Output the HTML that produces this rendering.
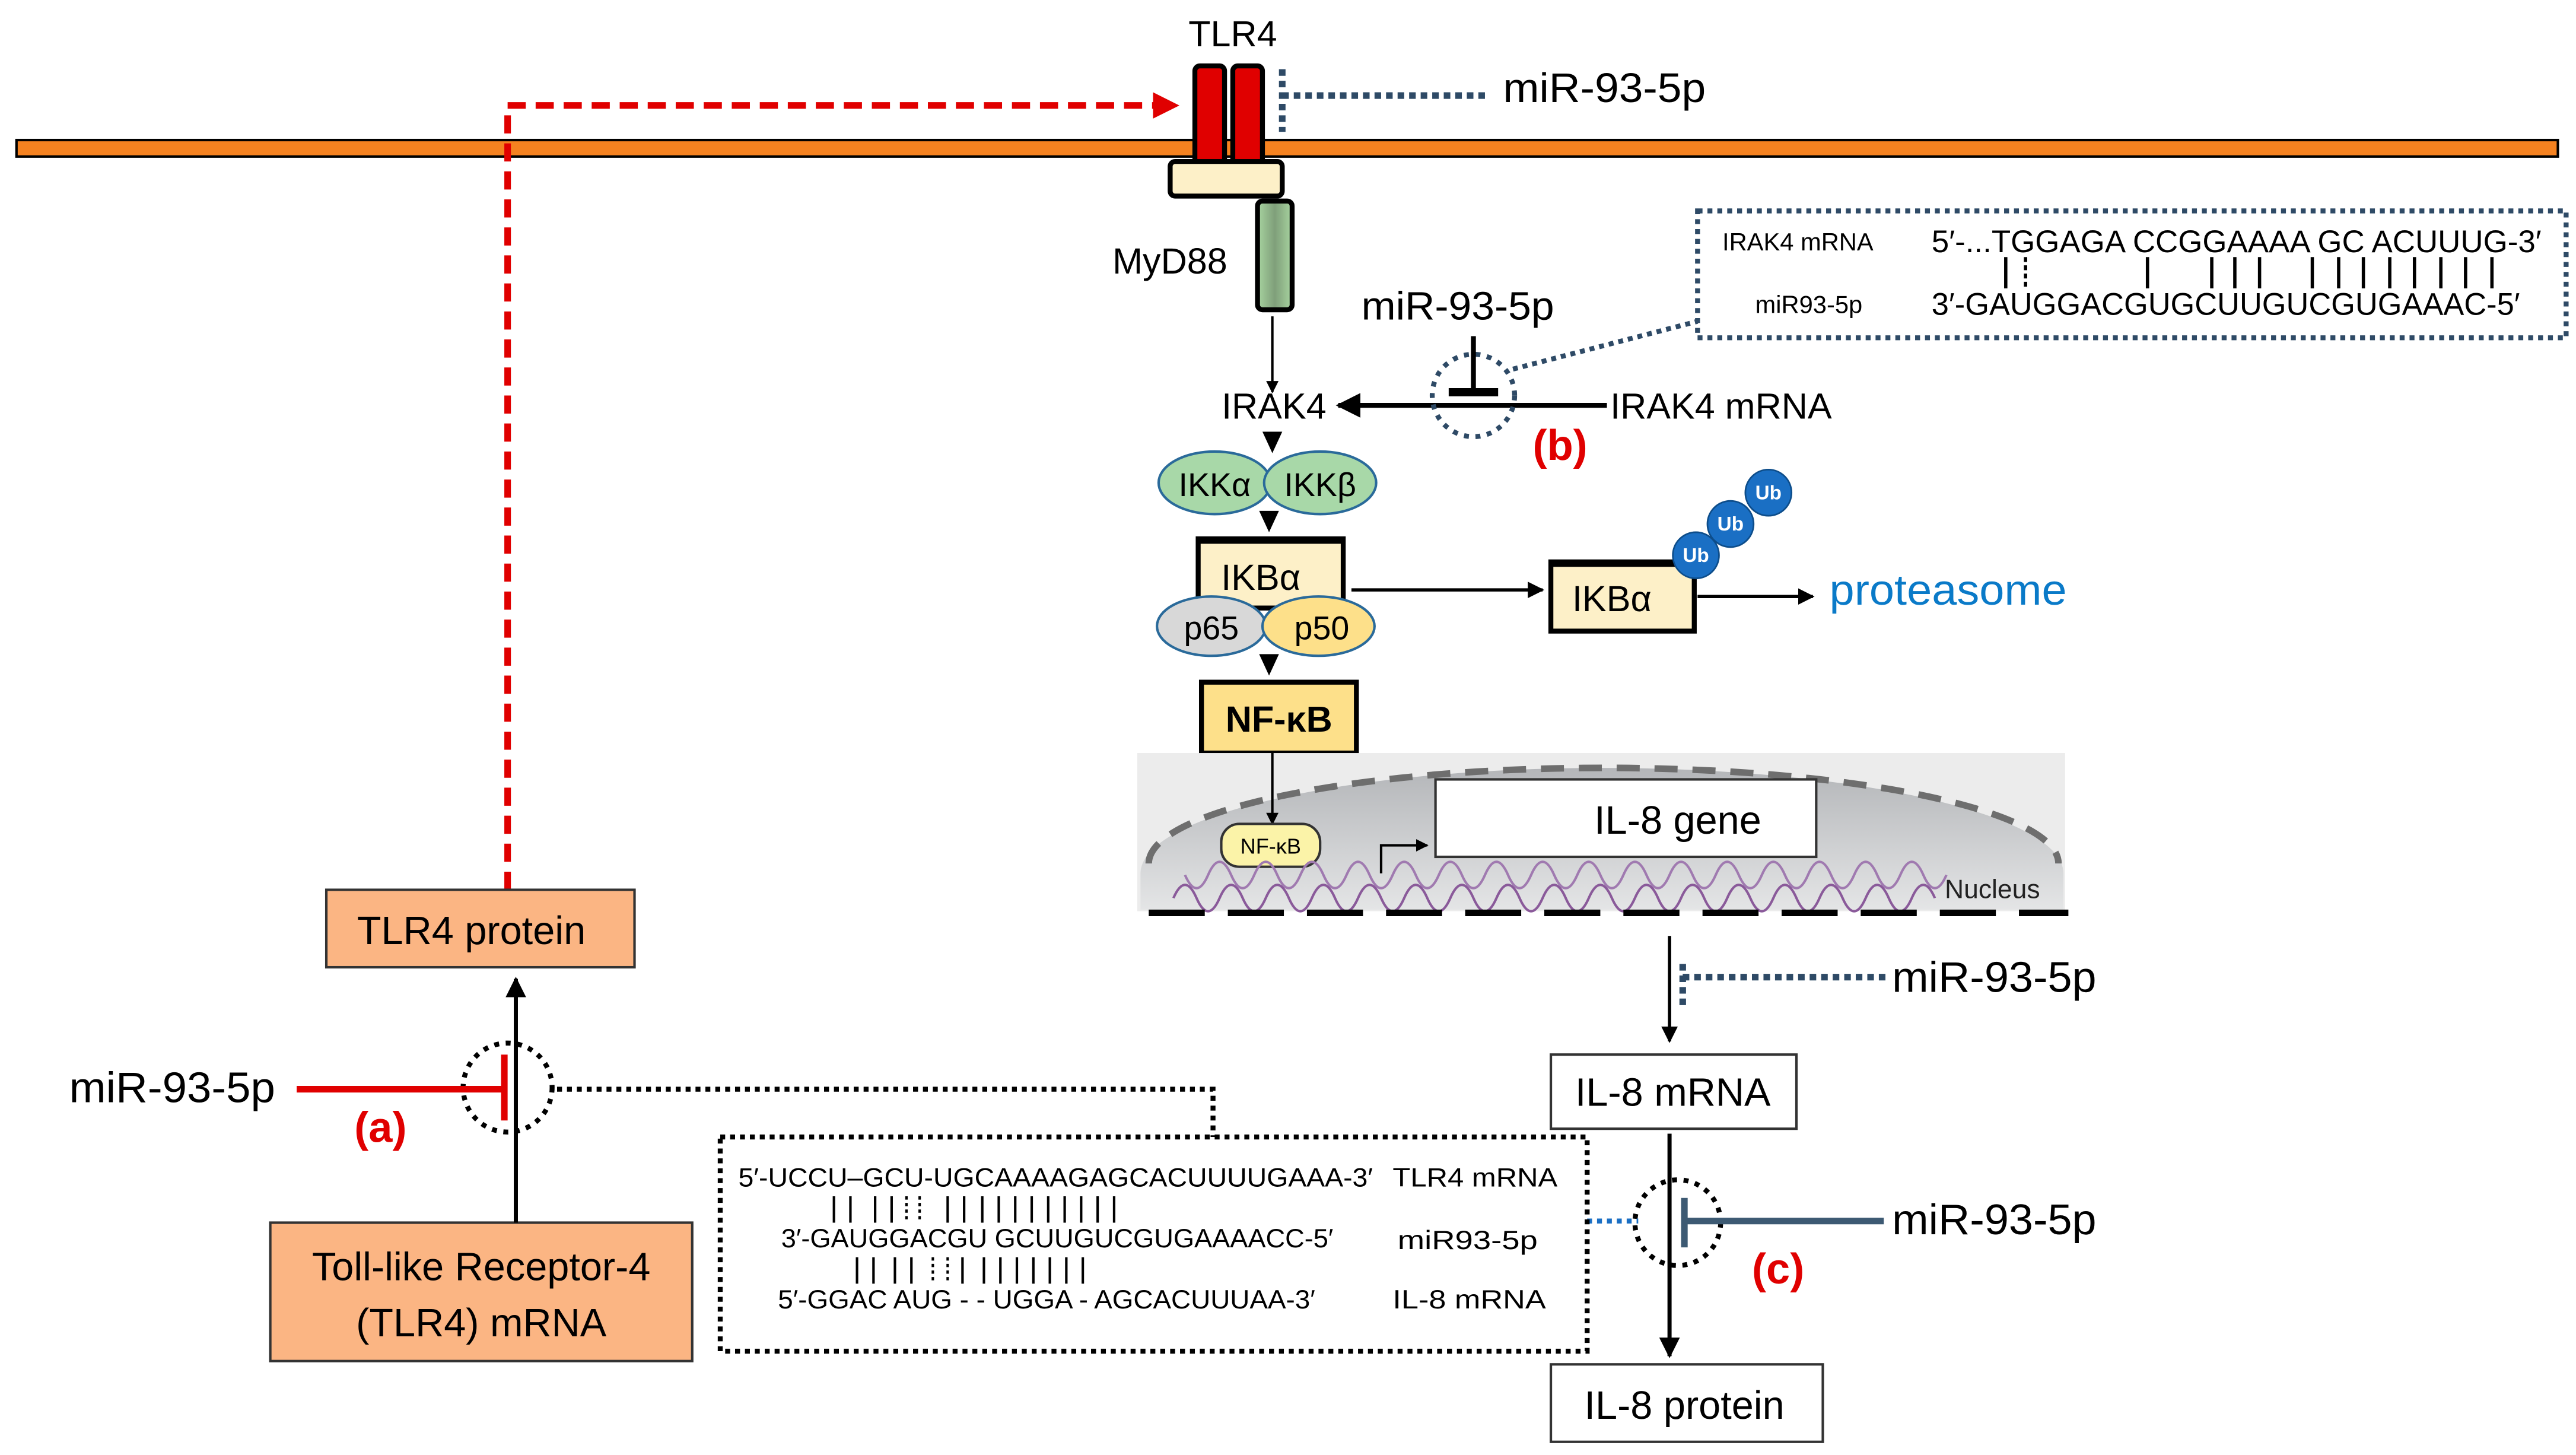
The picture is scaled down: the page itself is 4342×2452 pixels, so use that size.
<!DOCTYPE html>
<html><head><meta charset="utf-8"><style>html,body{margin:0;padding:0;background:#fff}svg{display:block}</style></head><body>
<svg width="4342" height="2452" viewBox="0 0 1563 883" preserveAspectRatio="none" xmlns="http://www.w3.org/2000/svg" font-family="'Liberation Sans', 'DejaVu Sans', sans-serif">
<defs>
<marker id="ab" viewBox="0 0 10 10" refX="9" refY="5" markerWidth="5" markerHeight="5" orient="auto-start-reverse"><path d="M0,0L10,5L0,10z" fill="#000"/></marker>
<marker id="ar" viewBox="0 0 10 10" refX="9" refY="5" markerWidth="4" markerHeight="4" orient="auto"><path d="M0,0L10,5L0,10z" fill="#e00000"/></marker>
<linearGradient id="ng" x1="0" y1="0" x2="0" y2="1"><stop offset="0" stop-color="#b4b6b9"/><stop offset="1" stop-color="#e4e5e6"/></linearGradient>
<linearGradient id="mg" x1="0" y1="0" x2="1" y2="0"><stop offset="0" stop-color="#a8d4a0"/><stop offset="0.5" stop-color="#7f9f7a"/><stop offset="1" stop-color="#a8d4a0"/></linearGradient>
</defs>

<rect x="10" y="85" width="1542" height="10" fill="#f58220" stroke="#000" stroke-width="1.5"/>
<polyline points="308,540 308,64 714,64" fill="none" stroke="#e00000" stroke-width="4" stroke-dasharray="11,6" marker-end="url(#ar)"/>
<text x="748" y="28" font-size="22" text-anchor="middle">TLR4</text>
<rect x="725" y="40" width="18" height="62" rx="3" fill="#e00000" stroke="#000" stroke-width="3"/>
<rect x="748" y="40" width="18" height="62" rx="3" fill="#e00000" stroke="#000" stroke-width="3"/>
<rect x="710" y="98" width="68" height="21" rx="3" fill="#fdf0c8" stroke="#000" stroke-width="3"/>
<rect x="763" y="122" width="21" height="66" rx="3" fill="url(#mg)" stroke="#000" stroke-width="3"/>
<text x="675" y="166" font-size="22">MyD88</text>
<path d="M778,42V80M778,58H902" stroke="#2e4a66" stroke-width="4" stroke-dasharray="4,3" fill="none"/>
<text x="912" y="62" font-size="25" textLength="123" lengthAdjust="spacingAndGlyphs">miR-93-5p</text>

<line x1="772" y1="192" x2="772" y2="238" stroke="#000" stroke-width="1.5" marker-end="url(#ab)"/>
<text x="773" y="254" font-size="22" text-anchor="middle">IRAK4</text>
<line x1="975" y1="246" x2="812" y2="246" stroke="#000" stroke-width="3" marker-end="url(#ab)"/>
<text x="977" y="254" font-size="22">IRAK4 mRNA</text>
<circle cx="894" cy="240" r="25" fill="none" stroke="#2e4a66" stroke-width="3" stroke-dasharray="3,4"/>
<path d="M894,204V237" stroke="#000" stroke-width="3" fill="none"/>
<path d="M879,238H909" stroke="#000" stroke-width="5"/>
<text x="826" y="194" font-size="24" textLength="117" lengthAdjust="spacingAndGlyphs">miR-93-5p</text>
<text x="930" y="279" font-size="26" font-weight="bold" fill="#e00000">(b)</text>
<line x1="918" y1="224" x2="1030" y2="195" stroke="#2e4a66" stroke-width="3" stroke-dasharray="3,3"/>
<rect x="1030" y="128" width="527" height="77" fill="none" stroke="#2e4a66" stroke-width="3" stroke-dasharray="3,3"/>
<text x="1045" y="152" font-size="15">IRAK4 mRNA</text>
<text x="1172" y="153" font-size="19" textLength="370" lengthAdjust="spacingAndGlyphs">5′-...TGGAGA CCGGAAAA GC ACUUUG-3′</text>
<text x="1065" y="190" font-size="15">miR93-5p</text>
<text x="1172" y="191" font-size="19" textLength="357" lengthAdjust="spacingAndGlyphs">3′-GAUGGACGUGCUUGUCGUGAAAC-5′</text>
<g stroke="#000" stroke-width="2">
<line x1="1217" y1="156" x2="1217" y2="175"/><line x1="1229" y1="156" x2="1229" y2="175" stroke-dasharray="3,2"/>
<line x1="1303" y1="156" x2="1303" y2="175"/>
<line x1="1342" y1="156" x2="1342" y2="175"/><line x1="1356" y1="156" x2="1356" y2="175"/><line x1="1371" y1="156" x2="1371" y2="175"/>
<line x1="1403" y1="156" x2="1403" y2="175"/><line x1="1419" y1="156" x2="1419" y2="175"/><line x1="1434" y1="156" x2="1434" y2="175"/><line x1="1450" y1="156" x2="1450" y2="175"/><line x1="1465" y1="156" x2="1465" y2="175"/><line x1="1481" y1="156" x2="1481" y2="175"/><line x1="1496" y1="156" x2="1496" y2="175"/><line x1="1512" y1="156" x2="1512" y2="175"/>
</g>

<path d="M766,262L778,262L772,275z" fill="#000"/>
<ellipse cx="737" cy="293" rx="34" ry="19" fill="#a8d8a8" stroke="#2a6a9a" stroke-width="1.5"/>
<ellipse cx="801" cy="293" rx="34" ry="19" fill="#a8d8a8" stroke="#2a6a9a" stroke-width="1.5"/>
<text x="737" y="301" font-size="20" text-anchor="middle">IKKα</text>
<text x="801" y="301" font-size="20" text-anchor="middle">IKKβ</text>
<path d="M764,310L776,310L770,323z" fill="#000"/>
<rect x="727" y="327" width="88" height="42" fill="#fdf0c8" stroke="#000" stroke-width="3"/>
<line x1="727" y1="328" x2="815" y2="328" stroke="#000" stroke-width="4"/>
<text x="765" y="358" font-size="22" text-anchor="middle">IKBα</text>
<ellipse cx="735" cy="380" rx="33" ry="18" fill="#d8d8d8" stroke="#2a6a9a" stroke-width="1.5"/>
<ellipse cx="800" cy="380" rx="34" ry="18" fill="#fde08a" stroke="#2a6a9a" stroke-width="1.5"/>
<text x="735" y="388" font-size="20" text-anchor="middle">p65</text>
<text x="802" y="388" font-size="20" text-anchor="middle">p50</text>
<path d="M764,397L776,397L770,410z" fill="#000"/>
<line x1="820" y1="358" x2="936" y2="358" stroke="#000" stroke-width="2" marker-end="url(#ab)"/>
<rect x="941" y="341" width="87" height="42" fill="#fdf0c8" stroke="#000" stroke-width="3"/>
<line x1="941" y1="342" x2="1028" y2="342" stroke="#000" stroke-width="4"/>
<text x="978" y="371" font-size="22" text-anchor="middle">IKBα</text>
<g fill="#1a6fc4" stroke="#0d4d8a" stroke-width="1">
<circle cx="1029" cy="337" r="14"/><circle cx="1050" cy="318" r="14"/><circle cx="1073" cy="299" r="14"/></g>
<g fill="#fff" font-size="12" font-weight="bold" text-anchor="middle"><text x="1029" y="341">Ub</text><text x="1050" y="322">Ub</text><text x="1073" y="303">Ub</text></g>
<line x1="1030" y1="362" x2="1100" y2="362" stroke="#000" stroke-width="2" marker-end="url(#ab)"/>
<text x="1110" y="367" font-size="26" fill="#0a7ac8" textLength="144" lengthAdjust="spacingAndGlyphs">proteasome</text>
<rect x="729" y="414" width="94" height="43" fill="#fde08a" stroke="#000" stroke-width="3"/>
<text x="776" y="444" font-size="22" font-weight="bold" text-anchor="middle">NF-κB</text>

<rect x="690" y="457" width="563" height="96" fill="#ececec"/>
<path d="M692,552 L692,530 A280,64 0 0 1 1252,530 L1252,552 Z" fill="url(#ng)"/>
<path d="M697,524 A276,58 0 0 1 1249,524" fill="none" stroke="#6e6e6e" stroke-width="4" stroke-dasharray="14,9"/>
<line x1="772" y1="457" x2="772" y2="500" stroke="#000" stroke-width="1.5" marker-end="url(#ab)"/>
<rect x="871" y="473" width="231" height="47" fill="#fff" stroke="#333" stroke-width="1.5"/>
<text x="1018" y="506" font-size="24" text-anchor="middle">IL-8 gene</text>
<path d="M838,530V513H866" fill="none" stroke="#000" stroke-width="1.5" marker-end="url(#ab)"/>
<rect x="741" y="500" width="60" height="26" rx="11" fill="#fbf3a8" stroke="#333" stroke-width="1.5"/>
<text x="771" y="518" font-size="13" text-anchor="middle">NF-κB</text>
<path d="M712,545 q7,-16 14,0 t14,0 t14,0 t14,0 t14,0 t14,0 t14,0 t14,0 t14,0 t14,0 t14,0 t14,0 t14,0 t14,0 t14,0 t14,0 t14,0 t14,0 t14,0 t14,0 t14,0 t14,0 t14,0 t14,0 t14,0 t14,0 t14,0 t14,0 t14,0 t14,0 t14,0 t14,0 t14,0" fill="none" stroke="#8a5a9a" stroke-width="1.5"/>
<path d="M719,531 q7,16 14,0 t14,0 t14,0 t14,0 t14,0 t14,0 t14,0 t14,0 t14,0 t14,0 t14,0 t14,0 t14,0 t14,0 t14,0 t14,0 t14,0 t14,0 t14,0 t14,0 t14,0 t14,0 t14,0 t14,0 t14,0 t14,0 t14,0 t14,0 t14,0 t14,0 t14,0 t14,0 t14,0" fill="none" stroke="#a07ab0" stroke-width="1.5"/>
<text x="1180" y="545" font-size="16" fill="#222">Nucleus</text>
<line x1="697" y1="554" x2="1255" y2="554" stroke="#000" stroke-width="4" stroke-dasharray="34,14"/>

<line x1="1013" y1="568" x2="1013" y2="632" stroke="#000" stroke-width="2" marker-end="url(#ab)"/>
<path d="M1021,585V612M1021,593H1145" stroke="#2e4a66" stroke-width="4" stroke-dasharray="4,3" fill="none"/>
<text x="1148" y="602" font-size="26" textLength="124" lengthAdjust="spacingAndGlyphs">miR-93-5p</text>
<rect x="941" y="640" width="149" height="45" fill="#fff" stroke="#333" stroke-width="1.5"/>
<text x="1015" y="671" font-size="24" text-anchor="middle">IL-8 mRNA</text>
<line x1="1013" y1="688" x2="1013" y2="823" stroke="#000" stroke-width="2.5" marker-end="url(#ab)"/>
<circle cx="1018" cy="742" r="26" fill="none" stroke="#000" stroke-width="3" stroke-dasharray="3,4"/>
<path d="M1143,741H1022M1022,727V757" stroke="#3d5a73" stroke-width="4" fill="none"/>
<line x1="963" y1="741" x2="994" y2="741" stroke="#1a6fc4" stroke-width="3" stroke-dasharray="3,3"/>
<text x="1148" y="749" font-size="26" textLength="124" lengthAdjust="spacingAndGlyphs">miR-93-5p</text>
<text x="1063" y="779" font-size="26" font-weight="bold" fill="#e00000">(c)</text>
<rect x="941" y="828" width="165" height="47" fill="#fff" stroke="#333" stroke-width="1.5"/>
<text x="1022" y="861" font-size="24" text-anchor="middle">IL-8 protein</text>

<rect x="198" y="540" width="187" height="47" fill="#fbb583" stroke="#333" stroke-width="1.5"/>
<text x="286" y="573" font-size="24" text-anchor="middle">TLR4 protein</text>
<rect x="164" y="742" width="256" height="84" fill="#fbb583" stroke="#333" stroke-width="1.5"/>
<text x="292" y="777" font-size="24" text-anchor="middle">Toll-like Receptor-4</text>
<text x="292" y="811" font-size="24" text-anchor="middle">(TLR4) mRNA</text>
<line x1="313" y1="742" x2="313" y2="594" stroke="#000" stroke-width="2.5" marker-end="url(#ab)"/>
<circle cx="308" cy="660" r="27" fill="none" stroke="#000" stroke-width="3" stroke-dasharray="3,4"/>
<path d="M180,661H305M306,640V680" stroke="#e00000" stroke-width="4" fill="none"/>
<text x="42" y="669" font-size="26" textLength="125" lengthAdjust="spacingAndGlyphs">miR-93-5p</text>
<text x="215" y="693" font-size="26" font-weight="bold" fill="#e00000">(a)</text>
<polyline points="338,661 736,661 736,690" fill="none" stroke="#000" stroke-width="3" stroke-dasharray="3,3"/>
<rect x="437" y="690" width="526" height="130" fill="none" stroke="#000" stroke-width="3" stroke-dasharray="3,3"/>
<text x="448" y="720" font-size="16" textLength="385" lengthAdjust="spacingAndGlyphs">5′-UCCU–GCU-UGCAAAAGAGCACUUUUGAAA-3′</text>
<text x="845" y="720" font-size="16" textLength="100" lengthAdjust="spacingAndGlyphs">TLR4 mRNA</text>
<text x="474" y="757" font-size="16" textLength="335" lengthAdjust="spacingAndGlyphs">3′-GAUGGACGU GCUUGUCGUGAAAACC-5′</text>
<text x="848" y="758" font-size="16" textLength="85" lengthAdjust="spacingAndGlyphs">miR93-5p</text>
<text x="472" y="794" font-size="16" textLength="326" lengthAdjust="spacingAndGlyphs">5′-GGAC AUG - - UGGA - AGCACUUUAA-3′</text>
<text x="845" y="794" font-size="16" textLength="93" lengthAdjust="spacingAndGlyphs">IL-8 mRNA</text>
<g stroke="#000" stroke-width="1.5">
<line x1="506" y1="726" x2="506" y2="742"/><line x1="516" y1="726" x2="516" y2="742"/>
<line x1="531" y1="726" x2="531" y2="742"/><line x1="541" y1="726" x2="541" y2="742"/>
<line x1="550" y1="726" x2="550" y2="742" stroke-dasharray="2,2"/><line x1="558" y1="726" x2="558" y2="742" stroke-dasharray="2,2"/>
<line x1="575" y1="726" x2="575" y2="742"/><line x1="585" y1="726" x2="585" y2="742"/>
<line x1="596" y1="726" x2="596" y2="742"/><line x1="606" y1="726" x2="606" y2="742"/><line x1="616" y1="726" x2="616" y2="742"/><line x1="626" y1="726" x2="626" y2="742"/><line x1="636" y1="726" x2="636" y2="742"/><line x1="646" y1="726" x2="646" y2="742"/><line x1="656" y1="726" x2="656" y2="742"/><line x1="666" y1="726" x2="666" y2="742"/><line x1="676" y1="726" x2="676" y2="742"/>
<line x1="520" y1="763" x2="520" y2="779"/><line x1="530" y1="763" x2="530" y2="779"/><line x1="543" y1="763" x2="543" y2="779"/><line x1="553" y1="763" x2="553" y2="779"/>
<line x1="566" y1="763" x2="566" y2="779" stroke-dasharray="2,2"/><line x1="575" y1="763" x2="575" y2="779" stroke-dasharray="2,2"/><line x1="584" y1="763" x2="584" y2="779"/>
<line x1="597" y1="763" x2="597" y2="779"/><line x1="607" y1="763" x2="607" y2="779"/><line x1="617" y1="763" x2="617" y2="779"/><line x1="627" y1="763" x2="627" y2="779"/><line x1="637" y1="763" x2="637" y2="779"/><line x1="647" y1="763" x2="647" y2="779"/><line x1="657" y1="763" x2="657" y2="779"/>
</g>
</svg>
</body></html>
